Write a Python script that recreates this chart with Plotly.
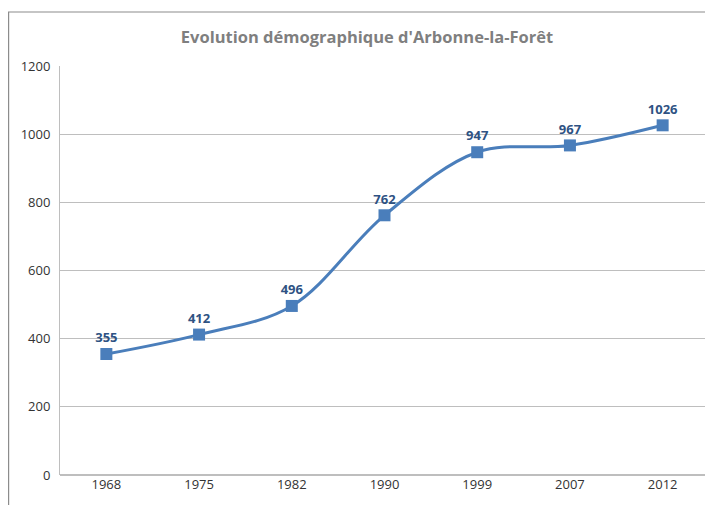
import plotly.graph_objects as go

years = ["1968", "1975", "1982", "1990", "1999", "2007", "2012"]
population = [355, 412, 496, 762, 947, 967, 1026]
y_ticks = [0, 200, 400, 600, 800, 1000, 1200]

# page has an 8px body margin, so the figure is offset by 8px
OFF = 8
W, H = 713 - OFF, 505 - OFF
L, R, T, B = 60 - OFF, 4, 66 - OFF, 30
pw, ph = W - L - R, H - T - B

fig = go.Figure()
fig.add_trace(go.Scatter(
    x=years, y=population,
    mode="lines+markers+text",
    line=dict(color="#4A7EBB", width=3, shape="spline", smoothing=1.0),
    marker=dict(symbol="square", size=12, color="#4A7EBB"),
    text=[f"<b>{v}</b>" for v in population],
    textposition="top center",
    textfont=dict(family="Open Sans", size=13, color="#2E5283"),
    cliponaxis=False,
    hoverinfo="skip",
))

# outer chart frame
fig.add_shape(type="rect", xref="paper", yref="paper",
              x0=(0.6 - L) / pw, x1=(W + 10 - L) / pw,
              y0=-(B + 10) / ph, y1=1 + (T - 4) / ph,
              line=dict(color="#8C8C8C", width=1.2), layer="below")

fig.update_layout(
    width=W, height=H,
    margin=dict(l=L, r=R, t=T, b=B),
    paper_bgcolor="white", plot_bgcolor="white",
    showlegend=False,
    title=dict(text="<b>Evolution démographique d'Arbonne-la-Forêt</b>",
               x=(367 - OFF) / W, xanchor="center", y=1 - (37 - OFF) / H, yanchor="middle",
               font=dict(family="Open Sans", size=16.5, color="#7F7F7F")),
    xaxis=dict(type="category", showgrid=False, showline=False, zeroline=False,
               ticks="", tickfont=dict(family="Open Sans", size=13, color="#333333"),
               range=[-0.5, 6.5]),
    yaxis=dict(range=[0, 1200], tickvals=y_ticks, showgrid=True, gridcolor="#BEBEBE",
               gridwidth=1, showline=True, linecolor="#BEBEBE", linewidth=1,
               zeroline=True, zerolinecolor="#BEBEBE", ticks="",
               tickfont=dict(family="Open Sans", size=13, color="#333333"),
               ticklabelstandoff=6),
)

fig.write_html("out.html")
